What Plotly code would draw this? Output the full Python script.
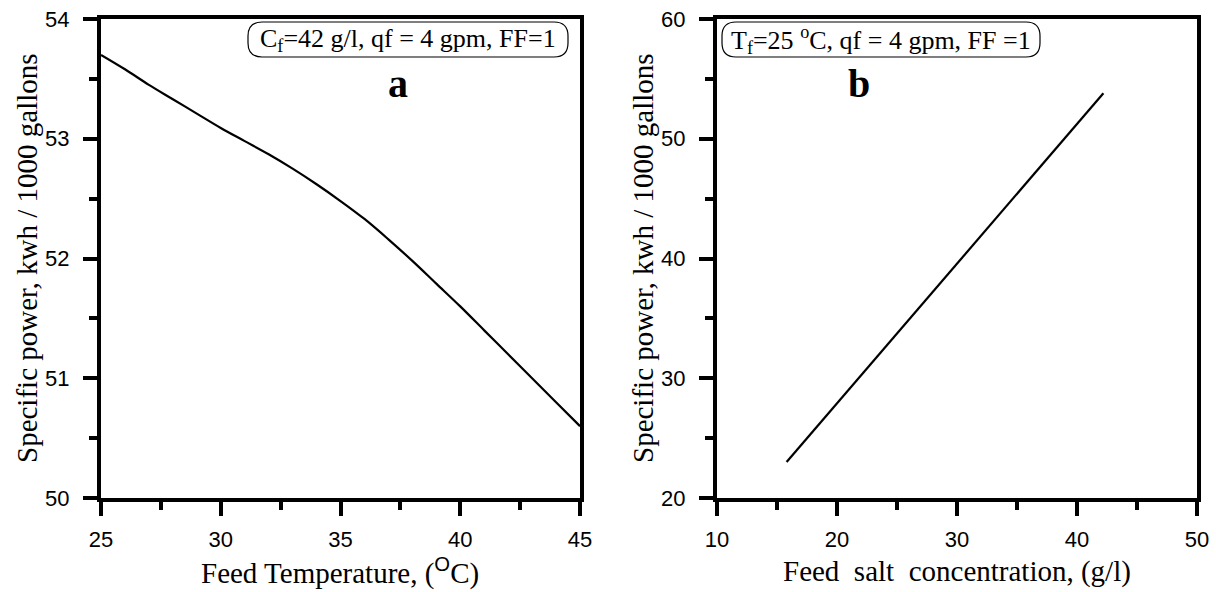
import plotly.graph_objects as go

# Panel a: specific power vs feed temperature
temp_c = [25, 26, 27, 28, 29, 30, 31, 32, 33, 34, 35, 36, 37, 38, 39, 40, 41, 42, 43, 44, 45]
power_a = [53.70, 53.58, 53.45, 53.33, 53.21, 53.09, 52.98, 52.87, 52.75, 52.62, 52.48,
           52.33, 52.16, 51.98, 51.79, 51.60, 51.40, 51.20, 51.00, 50.80, 50.60]

# Panel b: specific power vs feed salt concentration
salt_gl = [15.8, 42.2]
power_b = [23.0, 53.8]

W, H = 1216, 592
XA = [101 / W, 580 / W]
XB = [717 / W, 1197 / W]
YD = [1 - 498 / H, 1 - 19 / H]

SERIF = "Liberation Serif"
SANS = "Liberation Sans"
TITLE_SIZE = 29


def px(x):
    return x / W


def py(y):
    return 1 - y / H


fig = go.Figure()
fig.add_trace(go.Scatter(x=temp_c, y=power_a, mode="lines",
                         line=dict(color="black", width=2.2, shape="spline"),
                         xaxis="x", yaxis="y", showlegend=False))
fig.add_trace(go.Scatter(x=salt_gl, y=power_b, mode="lines",
                         line=dict(color="black", width=2.2),
                         xaxis="x2", yaxis="y2", showlegend=False))


def axis(domain, rng, dtick, minor_dtick, anchor, standoff):
    return dict(
        domain=domain, range=rng, dtick=dtick, tick0=rng[0],
        showline=True, linecolor="black", linewidth=4, mirror=True,
        ticks="outside", ticklen=14, tickwidth=4, tickcolor="black",
        minor=dict(ticks="outside", ticklen=8, tickwidth=3.5, tickcolor="black",
                   dtick=minor_dtick, tick0=rng[0], showgrid=False),
        showgrid=False, zeroline=False, anchor=anchor, automargin=False,
        ticklabelstandoff=standoff,
        tickfont=dict(family=SANS, size=22, color="black"),
    )


fig.update_layout(
    width=W, height=H, autosize=False,
    margin=dict(l=0, r=0, t=0, b=0, autoexpand=False),
    paper_bgcolor="white", plot_bgcolor="white",
    xaxis=axis(XA, [25, 45], 5, 2.5, "y", 5),
    yaxis=axis(YD, [50, 54], 1, 0.5, "x", 9),
    xaxis2=axis(XB, [10, 50], 10, 5, "y2", 5),
    yaxis2=axis(YD, [20, 60], 10, 5, "x2", 9),
)

# Axis titles
ytitle = "Specific power, kwh / 1000 gallons"
title_font = dict(family=SERIF, size=TITLE_SIZE, color="black")
for xc in (27, 643):
    fig.add_annotation(x=px(xc), y=py(258), xref="paper", yref="paper", text=ytitle,
                       textangle=-90, showarrow=False, xanchor="center", yanchor="middle",
                       font=title_font)
fig.add_annotation(x=px(340), y=py(571), xref="paper", yref="paper",
                   text="Feed Temperature, (<span style='font-family:Liberation Sans'><sup>O</sup></span>C)",
                   showarrow=False, xanchor="center", yanchor="middle", font=title_font)
fig.add_annotation(x=px(957), y=py(571), xref="paper", yref="paper",
                   text="Feed  salt  concentration, (g/l)",
                   showarrow=False, xanchor="center", yanchor="middle", font=title_font)


def rounded_box(x0, y0, x1, y1, r):
    # corners given in page pixels, converted to paper coordinates
    path = (f"M {px(x0 + r)},{py(y0)} L {px(x1 - r)},{py(y0)} "
            f"Q {px(x1)},{py(y0)} {px(x1)},{py(y0 + r)} "
            f"L {px(x1)},{py(y1 - r)} Q {px(x1)},{py(y1)} {px(x1 - r)},{py(y1)} "
            f"L {px(x0 + r)},{py(y1)} Q {px(x0)},{py(y1)} {px(x0)},{py(y1 - r)} "
            f"L {px(x0)},{py(y0 + r)} Q {px(x0)},{py(y0)} {px(x0 + r)},{py(y0)} Z")
    fig.add_shape(type="path", path=path, xref="paper", yref="paper",
                  line=dict(color="black", width=1.2), fillcolor="rgba(0,0,0,0)")


# Condition boxes
box_font = dict(family=SERIF, size=26, color="black")
BOX_A = (248, 22, 568, 57)
BOX_B = (722, 22, 1040, 57)
rounded_box(*BOX_A, 14)
fig.add_annotation(x=px((BOX_A[0] + BOX_A[2]) / 2), y=py((BOX_A[1] + BOX_A[3]) / 2),
                   xref="paper", yref="paper", xanchor="center", yanchor="middle",
                   text="C<sub>f</sub>=42 g/l, qf = 4 gpm, FF=1", showarrow=False, font=box_font)
rounded_box(*BOX_B, 14)
fig.add_annotation(x=px((BOX_B[0] + BOX_B[2]) / 2), y=py((BOX_B[1] + BOX_B[3]) / 2),
                   xref="paper", yref="paper", xanchor="center", yanchor="middle",
                   text="T<sub>f</sub>=25 <sup>o</sup>C, qf = 4 gpm, FF =1", showarrow=False,
                   font=box_font)

# Panel letters
letter_font = dict(family=SERIF, size=40, color="black")
fig.add_annotation(x=px(BOX_A[0] + 0.47 * (BOX_A[2] - BOX_A[0])), y=py(83),
                   xref="paper", yref="paper", xanchor="center", yanchor="middle",
                   text="<b>a</b>", showarrow=False, font=letter_font)
fig.add_annotation(x=px(BOX_B[0] + 0.43 * (BOX_B[2] - BOX_B[0])), y=py(83),
                   xref="paper", yref="paper", xanchor="center", yanchor="middle",
                   text="<b>b</b>", showarrow=False, font=letter_font)

fig.write_html("out.html")
